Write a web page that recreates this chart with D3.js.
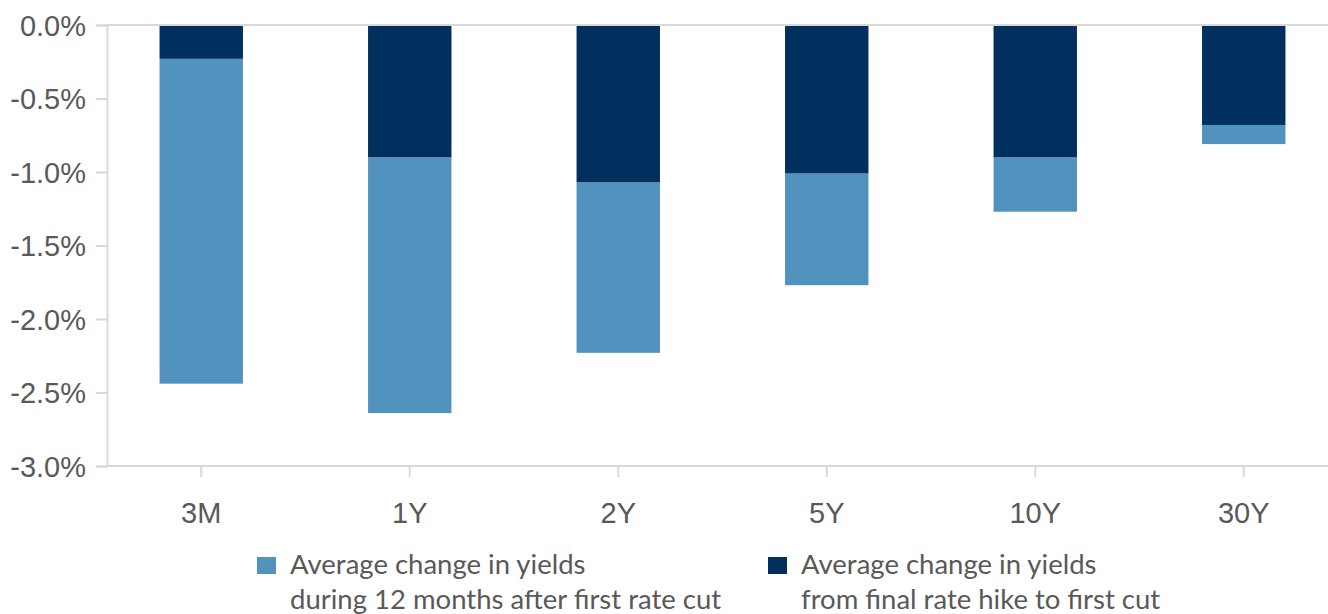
<!DOCTYPE html>
<html>
<head>
<meta charset="utf-8">
<script src="https://cdn.jsdelivr.net/npm/d3@7"></script>
<style>
  body { margin: 0; background: #fff; }
  svg { display: block; font-family: Lato, "Noto Sans", sans-serif; }
</style>
</head>
<body>
<div id="chart"></div>
<script>
// tenors along the curve
const tenors = ['3M', '1Y', '2Y', '5Y', '10Y', '30Y']
// final hike -> first cut (%)
const hikeToCut = [-0.23, -0.90, -1.07, -1.01, -0.90, -0.68]
// 12 months after first cut (%)
const afterCut = [-2.21, -1.74, -1.16, -0.76, -0.37, -0.13]
const yTicks = [0, -0.5, -1, -1.5, -2, -2.5, -3]
const legendItems = [
  { lines: ['Average change in yields', 'during 12 months after first rate cut'], color: '#5292be' },
  { lines: ['Average change in yields', 'from final rate hike to first cut'], color: '#012f5e' }
]

const width = 1328, height = 614
const margin = { top: 25, right: 0, bottom: 148, left: 97 }
const axisX = 107
const gridColor = '#d9d9d9', textColor = '#595959'
const pct = d => d3.format('.1f')(d).replace('\u2212', '-') + '%'

const svg = d3.select('#chart').append('svg')
  .attr('width', width)
  .attr('height', height)

const x = d3.scaleBand()
  .domain(tenors)
  .range([margin.left, 1348])
  .paddingInner(0.6)
  .paddingOuter(0.3)

const y = d3.scaleLinear()
  .domain([-3, 0])
  .range([height - margin.bottom, margin.top])

// bars: dark segment from 0, light segment below it
const rows = tenors.map((t, i) => ({ t, dark: hikeToCut[i], light: afterCut[i] }))

svg.append('g').selectAll('rect.light')
  .data(rows)
  .join('rect')
  .attr('class', 'light')
  .attr('x', d => x(d.t))
  .attr('width', x.bandwidth())
  .attr('y', d => y(d.dark))
  .attr('height', d => y(d.dark + d.light) - y(d.dark))
  .attr('fill', legendItems[0].color)

svg.append('g').selectAll('rect.dark')
  .data(rows)
  .join('rect')
  .attr('class', 'dark')
  .attr('x', d => x(d.t))
  .attr('width', x.bandwidth())
  .attr('y', y(0))
  .attr('height', d => y(d.dark) - y(0))
  .attr('fill', legendItems[1].color)

// y axis
const yAxis = svg.append('g')
  .attr('transform', `translate(${axisX},0)`)
  .call(d3.axisLeft(y).tickValues(yTicks).tickSize(11).tickPadding(10).tickFormat(pct))
yAxis.select('.domain').attr('stroke', gridColor).attr('stroke-width', 2)
yAxis.selectAll('.tick line').attr('stroke', gridColor).attr('stroke-width', 2)
yAxis.selectAll('.tick text')
  .attr('fill', textColor)
  .style('font-size', '29px')
  .attr('dy', '0.36em')

// horizontal lines at 0 and at the bottom
svg.append('line')
  .attr('x1', axisX).attr('x2', width)
  .attr('y1', y(0)).attr('y2', y(0))
  .attr('stroke', gridColor).attr('stroke-width', 2)

const xAxis = svg.append('g')
  .attr('transform', `translate(0,${y(-3)})`)
  .call(d3.axisBottom(x).tickSize(11).tickPadding(25))
xAxis.select('.domain').remove()
xAxis.selectAll('.tick line').attr('stroke', gridColor).attr('stroke-width', 2)
xAxis.selectAll('.tick text').attr('fill', textColor).style('font-size', '29px')
svg.append('line')
  .attr('x1', axisX).attr('x2', width)
  .attr('y1', y(-3)).attr('y2', y(-3))
  .attr('stroke', gridColor).attr('stroke-width', 2)

// legend
const legendX = [257, 768]
const legend = svg.append('g')
  .selectAll('g')
  .data(legendItems)
  .join('g')
  .attr('transform', (d, i) => `translate(${legendX[i]},557)`)

legend.append('rect')
  .attr('width', 19).attr('height', 17)
  .attr('fill', d => d.color)

legend.append('text')
  .attr('x', 33)
  .attr('y', 17)
  .attr('fill', textColor)
  .style('font-size', '27.5px')
  .selectAll('tspan')
  .data(d => d.lines)
  .join('tspan')
  .attr('x', 33)
  .attr('dy', (d, i) => i ? 35 : 0)
  .text(d => d)
</script>
</body>
</html>
